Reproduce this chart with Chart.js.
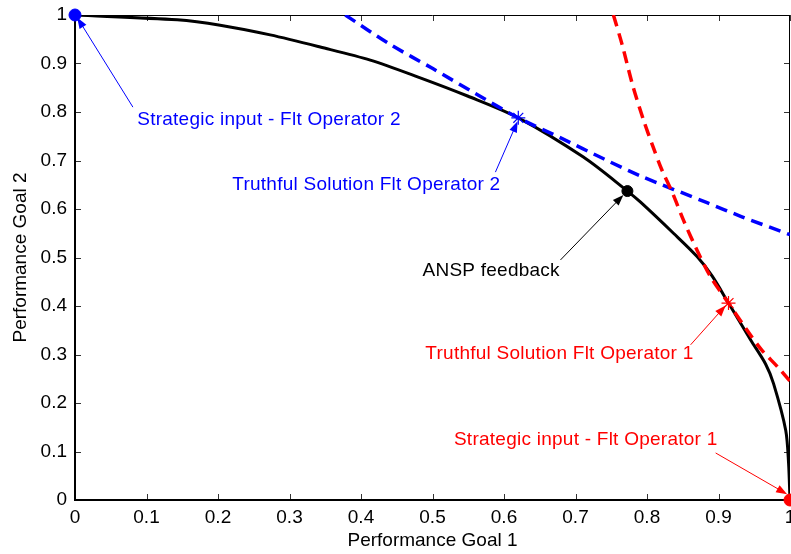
<!DOCTYPE html>
<html>
<head>
<meta charset="utf-8">
<title>Performance goals</title>
<script src="https://cdn.jsdelivr.net/npm/chart.js@4.4.0/dist/chart.umd.min.js"></script>
<style>
  html, body { margin: 0; padding: 0; background: #fff; }
  canvas { display: block; }
</style>
</head>
<body>
<canvas id="chart" width="791" height="554"></canvas>
<script>
// pareto front (ANSP)
const paretoX = [0, 0.143, 0.203, 0.273, 0.343, 0.413, 0.48, 0.549, 0.62, 0.711, 0.7726, 0.791, 0.837, 0.87, 0.891, 0.914, 0.945, 0.966, 0.977, 0.994, 0.998, 1];
const paretoY = [1, 0.99, 0.979, 0.959, 0.934, 0.907, 0.872, 0.833, 0.788, 0.707, 0.637, 0.614, 0.55, 0.502, 0.462, 0.406, 0.33, 0.28, 0.24, 0.144, 0.076, 0];

// operator 2 utility curve
const op2X = [0.378, 0.44, 0.501, 0.56, 0.62, 0.68, 0.74, 0.791, 0.884, 0.931, 1.0];
const op2Y = [1.0, 0.94, 0.889, 0.838, 0.788, 0.746, 0.703, 0.668, 0.613, 0.585, 0.547];

// operator 1 utility curve
const op1X = [0.753, 0.765, 0.78, 0.795, 0.808, 0.821, 0.836, 0.851, 0.87, 0.889, 0.914, 0.94, 0.96, 0.983, 1.0];
const op1Y = [1.0, 0.94, 0.855, 0.784, 0.73, 0.68, 0.632, 0.577, 0.515, 0.46, 0.406, 0.35, 0.31, 0.274, 0.245];

// special points
const strategic2 = [0, 1];
const strategic1 = [1, 0];
const truthful2 = [0.62, 0.788];
const truthful1 = [0.914, 0.406];
const feedback = [0.7726, 0.637];

// ticks
const xTicks = [0, 0.1, 0.2, 0.3, 0.4, 0.5, 0.6, 0.7, 0.8, 0.9, 1];
const xTickLabels = ['0', '0.1', '0.2', '0.3', '0.4', '0.5', '0.6', '0.7', '0.8', '0.9', '1'];
const yTicks = [0, 0.1, 0.2, 0.3, 0.4, 0.5, 0.6, 0.7, 0.8, 0.9, 1];
const yTickLabels = ['0', '0.1', '0.2', '0.3', '0.4', '0.5', '0.6', '0.7', '0.8', '0.9', '1'];

// arrow notes: text anchor (left, middle) and arrow from -> to, in data units
const notes = [
  { text: 'Strategic input - Flt Operator 2', color: '#0000ff', at: [0.087, 0.783], from: [0.081, 0.81], to: [0.003, 0.995] },
  { text: 'Truthful Solution Flt Operator 2', color: '#0000ff', at: [0.22, 0.649], from: [0.588, 0.676], to: [0.619, 0.781] },
  { text: 'ANSP feedback', color: '#000000', at: [0.486, 0.472], from: [0.679, 0.495], to: [0.767, 0.629] },
  { text: 'Truthful Solution Flt Operator 1', color: '#ff0000', at: [0.49, 0.301], from: [0.861, 0.32], to: [0.91, 0.401] },
  { text: 'Strategic input - Flt Operator 1', color: '#ff0000', at: [0.53, 0.124], from: [0.896, 0.097], to: [0.996, 0.012] }
];

const FONT = "'Liberation Sans', Arial, sans-serif";
const zip = (xs, ys) => xs.map((v, i) => ({ x: v, y: ys[i] }));
const pt = (p) => [{ x: p[0], y: p[1] }];

// box with inward ticks on all four sides
const framePlugin = {
  id: 'frame',
  beforeDatasetsDraw(chart) {
    const { ctx, chartArea: a, scales: { x, y } } = chart;
    ctx.save();
    ctx.lineWidth = 1;
    ctx.strokeStyle = '#333';
    ctx.beginPath();
    xTicks.forEach(v => {
      const px = Math.round(x.getPixelForValue(v)) + 0.5;
      ctx.moveTo(px, a.bottom); ctx.lineTo(px, a.bottom - 6);
      ctx.moveTo(px, a.top); ctx.lineTo(px, a.top + 6);
    });
    yTicks.forEach(v => {
      const py = Math.round(y.getPixelForValue(v)) + 0.5;
      ctx.moveTo(a.left, py); ctx.lineTo(a.left + 6, py);
      ctx.moveTo(a.right, py); ctx.lineTo(a.right - 6, py);
    });
    ctx.stroke();

    ctx.strokeStyle = '#000';
    ctx.lineWidth = 1;
    ctx.beginPath();
    ctx.moveTo(a.left, a.top + 0.5); ctx.lineTo(a.right, a.top + 0.5);
    ctx.moveTo(a.right - 0.5, a.top); ctx.lineTo(a.right - 0.5, a.bottom);
    ctx.stroke();
    ctx.lineWidth = 2;
    ctx.beginPath();
    ctx.moveTo(a.left, a.top); ctx.lineTo(a.left, a.bottom);
    ctx.lineTo(a.right, a.bottom);
    ctx.stroke();
    ctx.restore();
  }
};

// arrows and their labels
const notesPlugin = {
  id: 'notes',
  afterDatasetsDraw(chart) {
    const { ctx, scales: { x, y } } = chart;
    ctx.save();
    ctx.font = '19px ' + FONT;
    ctx.letterSpacing = '0.25px';
    ctx.textAlign = 'left';
    ctx.textBaseline = 'middle';
    notes.forEach(n => {
      const x0 = x.getPixelForValue(n.from[0]), y0 = y.getPixelForValue(n.from[1]);
      const x1 = x.getPixelForValue(n.to[0]), y1 = y.getPixelForValue(n.to[1]);
      const ang = Math.atan2(y1 - y0, x1 - x0);
      const len = 11, half = 4;
      ctx.strokeStyle = n.color;
      ctx.fillStyle = n.color;
      ctx.lineWidth = 1;
      ctx.beginPath();
      ctx.moveTo(x0, y0);
      ctx.lineTo(x1 - Math.cos(ang) * len * 0.8, y1 - Math.sin(ang) * len * 0.8);
      ctx.stroke();
      ctx.beginPath();
      ctx.moveTo(x1, y1);
      ctx.lineTo(x1 - Math.cos(ang) * len - Math.sin(ang) * half, y1 - Math.sin(ang) * len + Math.cos(ang) * half);
      ctx.lineTo(x1 - Math.cos(ang) * len + Math.sin(ang) * half, y1 - Math.sin(ang) * len - Math.cos(ang) * half);
      ctx.closePath();
      ctx.fill();
      ctx.fillText(n.text, x.getPixelForValue(n.at[0]), y.getPixelForValue(n.at[1]));
    });
    ctx.restore();
  }
};

const lineSet = (data, color, dashed, order) => ({
  data: data,
  showLine: true,
  borderColor: color,
  borderWidth: dashed ? 3.5 : 3,
  borderDash: dashed ? [12, 7] : [],
  pointRadius: 0,
  tension: 0.3,
  fill: false,
  order: order
});

const markerSet = (data, color, style, radius, order) => ({
  data: data,
  showLine: false,
  pointStyle: style,
  pointRadius: radius,
  pointBackgroundColor: color,
  pointBorderColor: color,
  pointBorderWidth: style === 'star' ? 1.2 : 1,
  clip: false,
  order: order
});

const axis = (ticks, labels, title, isX) => ({
  type: 'linear',
  min: 0,
  max: 1,
  grid: { display: false, drawTicks: false },
  border: { display: false },
  afterBuildTicks: s => { s.ticks = ticks.map(v => ({ value: v })); },
  afterFit: s => {
    // fixed plot box, no room reserved for end labels
    if (isX) s.height = 54; else s.width = 75;
    s.paddingLeft = s.paddingRight = s.paddingTop = s.paddingBottom = 0;
  },
  ticks: {
    color: '#000',
    padding: isX ? 6 : 8,
    font: { family: FONT, size: 19 },
    autoSkip: false,
    maxRotation: 0,
    callback: (v, i) => labels[i]
  },
  title: {
    display: true,
    text: title,
    color: '#000',
    font: { family: FONT, size: 19 },
    padding: isX ? { top: 0, bottom: 2 } : { top: 9, bottom: 0 }
  }
});

new Chart(document.getElementById('chart'), {
  type: 'scatter',
  data: {
    datasets: [
      markerSet(pt(strategic2), '#0000ff', 'circle', 6, 0),
      markerSet(pt(strategic1), '#ff0000', 'circle', 6, 0),
      markerSet(pt(feedback), '#000000', 'circle', 5.5, 0),
      markerSet(pt(truthful2), '#0000ff', 'star', 7, 0),
      markerSet(pt(truthful1), '#ff0000', 'star', 7, 0),
      lineSet(zip(op1X, op1Y), '#ff0000', true, 1),
      lineSet(zip(op2X, op2Y), '#0000ff', true, 2),
      lineSet(zip(paretoX, paretoY), '#000000', false, 3)
    ]
  },
  options: {
    responsive: false,
    animation: false,
    layout: { autoPadding: false, padding: { left: 0, top: 15, right: 1, bottom: 0 } },
    plugins: { legend: { display: false }, tooltip: { enabled: false } },
    scales: {
      x: axis(xTicks, xTickLabels, 'Performance Goal 1', true),
      y: axis(yTicks, yTickLabels, 'Performance Goal 2', false)
    }
  },
  plugins: [framePlugin, notesPlugin]
});
</script>
</body>
</html>
